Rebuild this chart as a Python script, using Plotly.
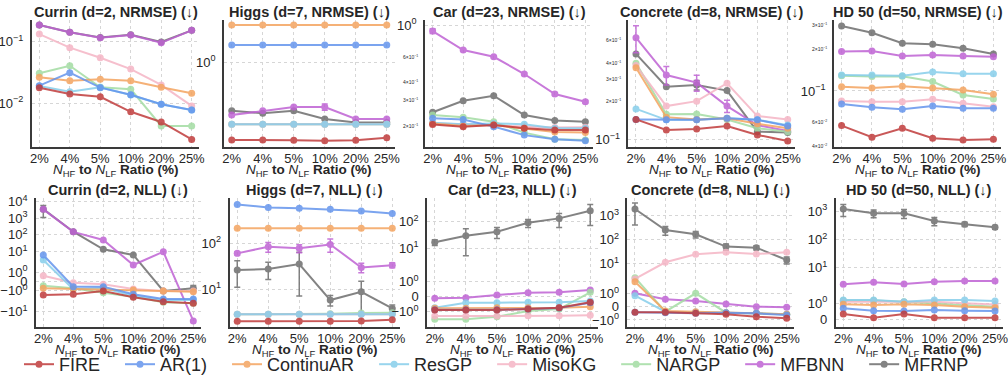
import numpy as np
import plotly.graph_objects as go

# ---------------------------------------------------------------- data
ratios = ["2%", "4%", "5%", "10%", "20%", "25%"]
methods = ["FIRE", "AR(1)", "ContinuAR", "ResGP", "MisoKG", "NARGP", "MFBNN", "MFRNP"]
colors = {
    "FIRE": "#c03c3c",
    "AR(1)": "#6495ed",
    "ContinuAR": "#f4a460",
    "ResGP": "#87ceeb",
    "MisoKG": "#f5b5c5",
    "NARGP": "#a3dca3",
    "MFBNN": "#bf62d4",
    "MFRNP": "#6e6e6e",
}

# NRMSE (log scale)
currin_nrmse = {
    "FIRE": [0.0180, 0.0142, 0.0128, 0.0073, 0.0050, 0.0026],
    "AR(1)": [0.0194, 0.0315, 0.0180, 0.0138, 0.0097, 0.0078],
    "ContinuAR": [0.0265, 0.0233, 0.0246, 0.0233, 0.0182, 0.0146],
    "ResGP": [0.0192, 0.0155, 0.0182, 0.0137, 0.0097, 0.0078],
    "MisoKG": [0.133, 0.080, 0.055, 0.036, 0.0199, 0.0091],
    "NARGP": [0.0308, 0.0408, 0.0182, 0.0169, 0.0043, 0.0043],
    "MFBNN": [0.187, 0.142, 0.116, 0.128, 0.096, 0.153],
    "MFRNP": [0.187, 0.142, 0.117, 0.130, 0.099, 0.153],
}
higgs_nrmse = {
    "FIRE": [0.166, 0.166, 0.165, 0.163, 0.165, 0.175],
    "AR(1)": [1.48, 1.48, 1.48, 1.48, 1.48, 1.48],
    "ContinuAR": [2.34, 2.34, 2.34, 2.34, 2.34, 2.34],
    "ResGP": [0.238, 0.238, 0.238, 0.238, 0.238, 0.238],
    "MisoKG": [0.238, 0.238, 0.238, 0.238, 0.238, 0.238],
    "NARGP": [0.238, 0.238, 0.238, 0.238, 0.238, 0.238],
    "MFBNN": [0.295, 0.326, 0.355, 0.355, 0.269, 0.269],
    "MFRNP": [0.326, 0.307, 0.326, 0.269, 0.249, 0.249],
}
car_nrmse = {
    "FIRE": [0.204, 0.197, 0.202, 0.192, 0.187, 0.187],
    "AR(1)": [0.225, 0.221, 0.197, 0.172, 0.161, 0.157],
    "ContinuAR": [0.207, 0.199, 0.202, 0.192, 0.181, 0.179],
    "ResGP": [0.210, 0.205, 0.207, 0.205, 0.192, 0.192],
    "MisoKG": [0.208, 0.205, 0.202, 0.198, 0.194, 0.195],
    "NARGP": [0.237, 0.229, 0.213, 0.179, 0.161, 0.159],
    "MFBNN": [0.908, 0.671, 0.602, 0.457, 0.332, 0.293],
    "MFRNP": [0.248, 0.298, 0.323, 0.237, 0.217, 0.213],
}
concrete_nrmse = {
    "FIRE": [0.144, 0.119, 0.121, 0.128, 0.109, 0.0977],
    "AR(1)": [0.144, 0.143, 0.143, 0.147, 0.143, 0.128],
    "ContinuAR": [0.365, 0.150, 0.144, 0.147, 0.133, 0.123],
    "ResGP": [0.174, 0.143, 0.143, 0.147, 0.143, 0.130],
    "MisoKG": [0.380, 0.183, 0.200, 0.276, 0.153, 0.144],
    "NARGP": [0.395, 0.158, 0.159, 0.144, 0.123, 0.1155],
    "MFBNN": [0.627, 0.320, 0.279, 0.183, 0.130, 0.117],
    "MFRNP": [0.468, 0.259, 0.267, 0.242, 0.1155, 0.114],
}
hd50_nrmse = {
    "FIRE": [0.0561, 0.0462, 0.0537, 0.0454, 0.0441, 0.0447],
    "AR(1)": [0.0805, 0.0762, 0.0736, 0.0778, 0.0750, 0.0750],
    "ContinuAR": [0.1074, 0.1050, 0.1080, 0.1050, 0.1017, 0.0946],
    "ResGP": [0.1305, 0.1305, 0.1290, 0.1370, 0.1330, 0.1330],
    "MisoKG": [0.0847, 0.0836, 0.0836, 0.0871, 0.0815, 0.0769],
    "NARGP": [0.129, 0.127, 0.128, 0.117, 0.0935, 0.0875],
    "MFBNN": [0.193, 0.195, 0.179, 0.182, 0.179, 0.177],
    "MFRNP": [0.296, 0.264, 0.222, 0.218, 0.204, 0.185],
}

# NLL (symmetric log scale)
currin_nll = {
    "FIRE": [-1.46, -1.39, -1.03, -1.71, -2.54, -3.16],
    "AR(1)": [6.1, -0.56, -0.56, -1.39, -1.9, -1.9],
    "ContinuAR": [-0.74, -0.81, -0.81, -0.92, -1.03, -1.11],
    "ResGP": [3.04, -0.85, -0.70, -1.54, -2.0, -2.0],
    "MisoKG": [0.63, -0.13, -0.30, -0.81, -1.03, -1.03],
    "NARGP": [-0.45, -0.74, -1.21, -1.65, -2.75, -3.16],
    "MFBNN": [3400, 150, 48.6, 1.79, 9.6, -36.9],
    "MFRNP": [3500, 153, 13.3, 6.1, -1.03, -0.74],
}
higgs_nll = {
    "FIRE": [2.0, 2.0, 2.0, 2.0, 2.02, 2.15],
    "AR(1)": [692, 597, 569, 541, 496, 442],
    "ContinuAR": [209, 209, 209, 209, 209, 209],
    "ResGP": [2.82, 2.82, 2.82, 2.82, 2.82, 2.82],
    "MisoKG": [2.82, 2.82, 2.82, 2.82, 2.82, 2.82],
    "NARGP": [2.82, 2.82, 2.82, 2.9, 3.0, 3.05],
    "MFBNN": [59.7, 83.2, 76.8, 93.3, 29.5, 33.1],
    "MFRNP": [26.0, 27.2, 35.1, 5.76, 8.7, 3.8],
}
car_nll = {
    "FIRE": [-0.89, -0.89, -0.89, -0.83, -0.74, -0.376],
    "AR(1)": [-0.88, -0.88, -0.88, -0.82, -0.75, -0.40],
    "ContinuAR": [-0.78, -0.78, -0.74, -0.74, -0.74, -0.67],
    "ResGP": [-0.74, -0.40, -0.40, -0.376, -0.376, -0.289],
    "MisoKG": [-1.30, -1.30, -1.30, -1.28, -1.28, -1.24],
    "NARGP": [-1.52, -1.52, -1.34, -0.96, -0.83, 0.295],
    "MFBNN": [-0.108, -0.067, 0.114, 0.27, 0.295, 0.45],
    "MFRNP": [16.6, 29.2, 41.2, 89.2, 130, 251],
}
concrete_nll = {
    "FIRE": [-0.42, -0.42, -0.50, -0.57, -0.75, -0.87],
    "AR(1)": [-0.42, -0.45, -0.50, -0.45, -0.50, -0.63],
    "ContinuAR": [1.88, -0.32, -0.377, -0.45, -0.50, -0.57],
    "ResGP": [0.83, -0.377, -0.40, -0.45, -0.50, -0.57],
    "MisoKG": [2.24, 11.2, 24.3, 29.5, 24.8, 29.5],
    "NARGP": [2.54, -0.377, 1.01, -0.45, -0.50, -0.57],
    "MFBNN": [1.01, 0.558, 0.43, 0.20, 0.0, -0.045],
    "MFRNP": [1906, 251, 166, 50.7, 45.7, 14.0],
}
hd50_nll = {
    "FIRE": [0.32, 0.083, 0.32, 0.083, 0.083, 0.083],
    "AR(1)": [0.68, 0.53, 0.51, 0.57, 0.53, 0.51],
    "ContinuAR": [0.94, 0.89, 0.94, 0.89, 0.78, 0.72],
    "ResGP": [1.21, 1.21, 1.10, 1.21, 1.21, 1.15],
    "MisoKG": [1.10, 1.10, 1.06, 1.10, 1.0, 0.93],
    "NARGP": [1.17, 1.17, 1.10, 1.0, 0.89, 0.78],
    "MFBNN": [2.62, 3.09, 2.69, 3.24, 3.43, 3.43],
    "MFRNP": [1202, 851, 851, 457, 347, 272],
}

# standard deviations (only where bars are drawn)
higgs_nrmse_err = {"MFBNN": [0, 0, 0, 0.025, 0, 0]}
car_nrmse_err = {"MFBNN": [0.034, 0.012, 0.010, 0.008, 0.008, 0.006]}
concrete_nrmse_err = {"MFBNN": [0.15, 0.053, 0.04, 0.02, 0, 0], "MFRNP": [0, 0, 0.023, 0, 0, 0]}
currin_nll_err = {"MFRNP": [2400, 0, 0, 0, 0, 0.3]}
higgs_nll_err = {"MFBNN": [5, 20, 15, 30, 7, 4], "MFRNP": [15, 11, 28, 1.5, 6, 0.7]}
car_nll_err = {"MFRNP": [4, 24, 18, 30, 70, 180]}
concrete_nll_err = {"MFRNP": [1500, 100, 50, 15, 9, 4.5]}
hd50_nll_err = {"MFRNP": [550, 260, 300, 150, 60, 40]}

# ---------------------------------------------------------------- helpers
W, H = 1008, 375
FONT = "Liberation Sans, Arial, sans-serif"
TXT = "#262626"

LINTHRESH = 2.0
LINSCALE_ADJ = 1.0 / (1.0 - 1.0 / 10.0)


def symlog(v):
    """Symmetric-log transform (linthresh=2, linscale=1, base 10)."""
    v = np.asarray(v, dtype=float)
    a = np.abs(v)
    with np.errstate(divide="ignore", invalid="ignore"):
        out = np.sign(v) * LINTHRESH * (LINSCALE_ADJ + np.log10(a / LINTHRESH))
    inside = a <= LINTHRESH
    out[inside] = v[inside] * LINSCALE_ADJ
    return out


def sup(k):
    return "10<sup>" + str(k).replace("-", "\u2212") + "</sup>"


def fx(p):
    return p / W


def fy(p):
    return 1 - p / H


SYMLOG_TICKS = [-10, -1, 0, 1, 10, 100, 1000, 10000]


def symlog_text(t):
    if t == 0:
        return "0"
    k = int(round(np.log10(abs(t))))
    return ("\u2212" if t < 0 else "") + sup(k)


TOP, BOT = (20, 147), (198, 327)
panels = [
    dict(title="Currin (d=2, NRMSE) (\u2193)", data=currin_nrmse, err={}, scale="log",
         x=(31.7, 199.3), y=TOP, yr=(-2.707, -0.648), major=[-1, -2], minor=[]),
    dict(title="Higgs (d=7, NRMSE) (\u2193)", data=higgs_nrmse, err=higgs_nrmse_err, scale="log",
         x=(224, 394.5), y=TOP, yr=(-0.85, 0.42), major=[0], minor=[]),
    dict(title="Car (d=23, NRMSE) (\u2193)", data=car_nrmse, err=car_nrmse_err, scale="log",
         x=(425, 593), y=TOP, yr=(-0.847, 0.035), major=[0],
         minor=[(6, -1), (4, -1), (3, -1), (2, -1)]),
    dict(title="Concrete (d=8, NRMSE) (\u2193)", data=concrete_nrmse, err=concrete_nrmse_err, scale="log",
         x=(628.4, 795.3), y=TOP, yr=(-1.057, -0.065), major=[-1],
         minor=[(6, -1), (4, -1), (3, -1), (2, -1)]),
    dict(title="HD 50 (d=50, NRMSE) (\u2193)", data=hd50_nrmse, err={}, scale="log",
         x=(834, 1001), y=TOP, yr=(-1.406, -0.486), major=[-1],
         minor=[(3, -1), (2, -1), (6, -2), (4, -2)]),
    dict(title="Currin (d=2, NLL) (\u2193)", data=currin_nll, err=currin_nll_err, scale="symlog",
         x=(35.8, 200.8), y=BOT, yr=(-5.48, 10.05)),
    dict(title="Higgs (d=7, NLL) (\u2193)", data=higgs_nll, err=higgs_nll_err, scale="symlog",
         x=(229.5, 400), y=BOT, yr=(1.97, 7.58)),
    dict(title="Car (d=23, NLL) (\u2193)", data=car_nll, err=car_nll_err, scale="symlog",
         x=(427, 598), y=BOT, yr=(-2.26, 7.37)),
    dict(title="Concrete (d=8, NLL) (\u2193)", data=concrete_nll, err=concrete_nll_err, scale="symlog",
         x=(627.4, 794.3), y=BOT, yr=(-1.70, 9.10)),
    dict(title="HD 50 (d=50, NLL) (\u2193)", data=hd50_nll, err=hd50_nll_err, scale="symlog",
         x=(835.7, 1002.6), y=BOT, yr=(-0.566, 8.56)),
]

XLABEL = ("<i>N</i><sub>HF</sub><b> to </b><i>N</i><sub>LF</sub><b> Ratio (%)</b>")
LEGEND_PAD = "\u00a0\u00a0\u00a0"

fig = go.Figure()
annotations = []
layout = {}

for i, p in enumerate(panels):
    n = i + 1
    xa = "x" if n == 1 else f"x{n}"
    ya = "y" if n == 1 else f"y{n}"
    x0, x1 = p["x"]
    ytop, ybot = p["y"]

    # draw later legend entries first so FIRE ends up on top
    for m in reversed(methods):
        vals = np.asarray(p["data"][m], dtype=float)
        err = p["err"].get(m)
        err_y = None
        if p["scale"] == "log":
            yv = vals
            if err is not None:
                err_y = dict(type="data", array=err, visible=True, color=colors[m],
                             thickness=1.5, width=3)
        else:
            yv = symlog(vals)
            if err is not None:
                e = np.asarray(err, dtype=float)
                up = symlog(vals + e) - yv
                dn = yv - symlog(vals - e)
                err_y = dict(type="data", symmetric=False, array=up, arrayminus=dn,
                             visible=True, color=colors[m], thickness=1.5, width=3)
        fig.add_trace(go.Scatter(
            x=ratios, y=yv, mode="lines+markers", name=m + LEGEND_PAD,
            legendrank=methods.index(m) + 1, showlegend=(i == 0),
            line=dict(color=colors[m], width=2),
            marker=dict(color=colors[m], size=7),
            opacity=0.85, error_y=err_y, xaxis=xa, yaxis=ya,
        ))

    axis_common = dict(
        showgrid=True, gridcolor="#d6d6d6", griddash="dot", gridwidth=1,
        showline=True, linecolor="#3a3a3a", linewidth=1.5,
        tickfont=dict(family=FONT, size=13, color=TXT), zeroline=False,
    )
    layout["xaxis" if n == 1 else f"xaxis{n}"] = dict(
        axis_common, domain=[fx(x0), fx(x1)], anchor=ya, type="category",
        range=[-0.25, 5.25], categoryorder="array", categoryarray=ratios,
        ticks="", ticklabelstandoff=-1,
    )
    if p["scale"] == "log":
        yax = dict(axis_common, type="log", range=list(p["yr"]),
                   tickvals=[10.0 ** k for k in p["major"]],
                   ticktext=[sup(k) for k in p["major"]])
        for mant, k in p["minor"]:
            annotations.append(dict(
                text=f"{mant}\u00d7" + sup(k), x=fx(x0 - 5), xref="paper", xanchor="right",
                y=np.log10(mant * 10.0 ** k), yref=ya, yanchor="middle", showarrow=False,
                font=dict(family=FONT, size=5, color=TXT),
            ))
    else:
        yax = dict(axis_common, type="linear", range=list(p["yr"]),
                   tickvals=list(symlog(SYMLOG_TICKS)),
                   ticktext=[symlog_text(t) for t in SYMLOG_TICKS])
    yax.update(domain=[fy(ybot), fy(ytop)], anchor=xa,
               ticks="outside", ticklen=4, tickcolor="rgba(0,0,0,0)")
    layout["yaxis" if n == 1 else f"yaxis{n}"] = yax

    # panel title and x-axis label
    annotations.append(dict(
        text="<b>" + p["title"] + "</b>", x=fx((x0 + x1) / 2), xref="paper", xanchor="center",
        y=fy(ytop - 8), yref="paper", yanchor="middle", showarrow=False,
        font=dict(family=FONT, size=14.5, color=TXT),
    ))
    annotations.append(dict(
        text=XLABEL, x=fx((x0 + x1) / 2), xref="paper", xanchor="center",
        y=fy(ybot + 23), yref="paper", yanchor="middle", showarrow=False,
        font=dict(family=FONT, size=13.5, color=TXT),
    ))

fig.update_layout(
    **layout,
    width=W, height=H,
    margin=dict(l=0, r=0, t=0, b=0, autoexpand=False),
    paper_bgcolor="white", plot_bgcolor="white",
    font=dict(family=FONT, color=TXT),
    annotations=annotations,
    legend=dict(
        orientation="h", x=0.5, xanchor="center", y=fy(364.5), yanchor="middle",
        font=dict(family=FONT, size=18, color=TXT), bgcolor="rgba(0,0,0,0)",
        itemwidth=30, tracegroupgap=0,
    ),
)

fig.write_html("out.html")
